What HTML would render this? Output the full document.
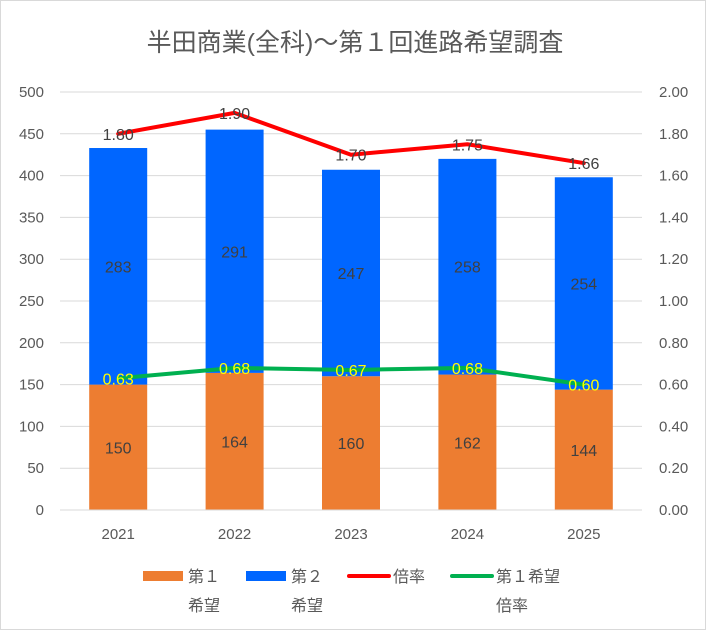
<!DOCTYPE html>
<html><head><meta charset="utf-8"><style>
body{margin:0;background:#fff}
#wrap{width:706px;height:630px;position:relative;overflow:hidden}
svg text{font-family:"Liberation Sans","Noto Sans CJK JP",sans-serif}
</style></head><body>
<div id="wrap">
<svg id="chart" width="706" height="630">
<rect x="0.5" y="0.5" width="705" height="629" fill="#fff" stroke="#d9d9d9"/>
<text x="355" y="51" font-size="25" fill="#595959" text-anchor="middle">半田商業(全科)～第１回進路希望調査</text>
</svg></div>
<script>
const years=['2021','2022','2023','2024','2025'];
const first=[150,164,160,162,144];
const second=[283,291,247,258,254];
const ratio=[1.80,1.90,1.70,1.75,1.66];
const ratio1=[0.63,0.68,0.67,0.68,0.60];
const leftTicks=[0,50,100,150,200,250,300,350,400,450,500];
const rightTicks=['0.00','0.20','0.40','0.60','0.80','1.00','1.20','1.40','1.60','1.80','2.00'];

const NS='http://www.w3.org/2000/svg';
const svg=document.getElementById('chart');
const x0=60,x1=642,yB=510,yT=92;
const yL=v=>yB-(v/500)*(yB-yT);
const yR=v=>yB-(v/2)*(yB-yT);
const step=(x1-x0)/years.length;
const xc=i=>x0+step*(i+0.5);
const bw=58;
function el(t,a,txt){const e=document.createElementNS(NS,t);for(const k in a)e.setAttribute(k,a[k]);if(txt!==undefined)e.textContent=txt;svg.appendChild(e);return e;}

leftTicks.forEach((v,i)=>{
  const g=el('line',{x1:x0,x2:x1,y1:yL(v),y2:yL(v),stroke:'#d9d9d9'});
  
  
  const t=el('text',{x:44,y:yL(v)+5,'font-size':15,fill:'#595959','text-anchor':'end'},v);
  
  
  const r=el('text',{x:659,y:yL(v)+5,'font-size':15,fill:'#595959'},rightTicks[i]);
  
  
});
years.forEach((y,i)=>{
  const b1=el('rect',{x:xc(i)-bw/2,y:yL(first[i]),width:bw,height:yB-yL(first[i]),fill:'#ed7d31'});
  
  
  const top=first[i]+second[i];
  const b2=el('rect',{x:xc(i)-bw/2,y:yL(top),width:bw,height:yL(first[i])-yL(top),fill:'#0066ff'});
  
  
  const l1=el('text',{x:xc(i),y:(yL(first[i])+yB)/2+6,'font-size':16,fill:'#404040','text-anchor':'middle'},first[i]);
  
  
  const l2=el('text',{x:xc(i),y:(yL(top)+yL(first[i]))/2+6,'font-size':16,fill:'#404040','text-anchor':'middle'},second[i]);
  
  
  const xl=el('text',{x:xc(i),y:539,'font-size':15,fill:'#595959','text-anchor':'middle'},y);
  
  
});
const ax=el('line',{x1:x0,x2:x1,y1:yB,y2:yB,stroke:'#d9d9d9'});


function line(arr,col,name,lblCol){
  const p=el('polyline',{points:arr.map((v,i)=>xc(i)+','+yR(v)).join(' '),fill:'none',stroke:col,'stroke-width':4,'stroke-linejoin':'round','stroke-linecap':'round'});
  
  
  arr.forEach((v,i)=>{
    const t=el('text',{x:xc(i),y:yR(v)+6,'font-size':16,fill:lblCol,'text-anchor':'middle'},v.toFixed(2));
    
    
  });
}
line(ratio,'#ff0000','ratio-line','#404040');
line(ratio1,'#00b050','first-ratio-line','#ffff00');

const lg=[
 {t:'rect',a:{x:143,y:571,width:40,height:10,fill:'#ed7d31'},tx:188,l1:'第１',l2:'希望',n:'legend-first'},
 {t:'rect',a:{x:246,y:571,width:40,height:10,fill:'#0066ff'},tx:291,l1:'第２',l2:'希望',n:'legend-second'},
 {t:'line',a:{x1:349,x2:389,y1:576,y2:576,stroke:'#ff0000','stroke-width':4,'stroke-linecap':'round'},tx:393,l1:'倍率',l2:'',n:'legend-ratio'},
 {t:'line',a:{x1:452,x2:492,y1:576,y2:576,stroke:'#00b050','stroke-width':4,'stroke-linecap':'round'},tx:496,l1:'第１希望',l2:'倍率',n:'legend-first-ratio'}
];
lg.forEach(o=>{
  const s=el(o.t,o.a);
  
  
  const t1=el('text',{x:o.tx,y:582,'font-size':16,fill:'#595959'},o.l1);
  
  
  if(o.l2){const t2=el('text',{x:o.tx,y:611,'font-size':16,fill:'#595959'},o.l2);
  
  }
});
</script>
</body></html>
